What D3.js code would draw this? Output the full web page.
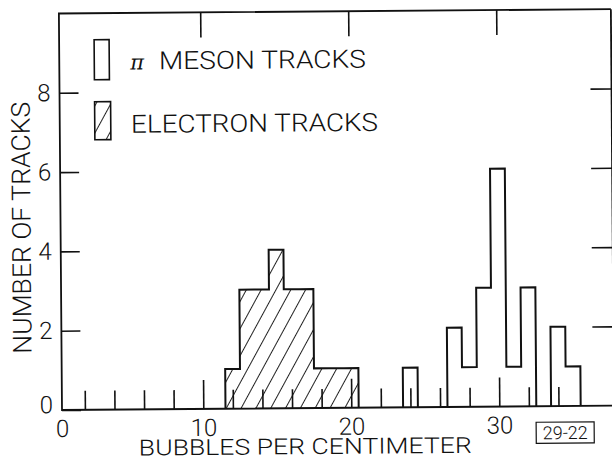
<!DOCTYPE html>
<html lang="en">
<head>
<meta charset="UTF-8">
<title>Bubbles per centimeter</title>
<style>
  body { margin: 0; background: #fff; }
  svg text { font-family: Roboto, "Liberation Sans", "DejaVu Sans", sans-serif; font-weight: 300; fill: #111; }
</style>
</head>
<body>
<div id="chart"></div>
<script src="https://d3js.org/d3.v7.min.js"></script>
<script>

// histogram bins (bubbles per cm, bin width 1) and track counts
const electronBins = [12, 13, 14, 15, 16, 17, 18, 19, 20];
const electronCounts = [1, 3, 3, 4, 3, 3, 1, 1, 1];
const pionBins = [24, 27, 28, 29, 30, 31, 32, 34, 35];
const pionCounts = [1, 2, 1, 3, 6, 1, 3, 2, 1];

// ticks
const xMajor = [0, 10, 20, 30];
const xMinor = [2, 4, 6, 8, 12, 14, 16, 18, 22, 24, 26, 28, 32, 34];
const xTop = [10, 20, 30];
const yTicks = [0, 2, 4, 6, 8];
const yRight = [2, 4, 6, 8];

const legendLabels = ["MESON TRACKS", "ELECTRON TRACKS"];
const xTitle = "BUBBLES PER CENTIMETER";
const yTitle = "NUMBER OF TRACKS";
const figNumber = "29-22";

const W = 612, H = 458;
const frame = { left: 62, right: 614, top: 13.5, bottom: 410 };

const x = d3.scaleLinear().domain([0, 36]).range([55.3, 588.1]);
const y = d3.scaleLinear().domain([0, 10]).range([frame.bottom, frame.top]);

const svg = d3.select("#chart")
    .append("svg")
    .attr("width", W)
    .attr("height", H);

// diagonal hatching for the electron histogram
svg.append("defs")
    .append("pattern")
    .attr("id", "hatch")
    .attr("patternUnits", "userSpaceOnUse")
    .attr("width", 13)
    .attr("height", 13)
    .attr("patternTransform", "rotate(29)")
    .append("line")
    .attr("x1", 6.5).attr("y1", 0)
    .attr("x2", 6.5).attr("y2", 13)
    .attr("stroke", "#222")
    .attr("stroke-width", 1);

// the scanned figure is tilted a little
const g = svg.append("g")
    .attr("transform", `rotate(-0.45, ${frame.left}, ${frame.bottom})`);

// split bins into contiguous runs, each gets its own outline
function runs(bins, counts) {
    const out = [];
    bins.forEach((b, i) => {
        const last = out[out.length - 1];
        if (last && b === last[last.length - 1].bin + 1) last.push({ bin: b, n: counts[i] });
        else out.push([{ bin: b, n: counts[i] }]);
    });
    return out;
}

const step = d3.line()
    .x(d => x(d[0]))
    .y(d => y(d[1]))
    .curve(d3.curveStepAfter);

function outline(run) {
    const pts = [[run[0].bin - 0.5, 0]];
    run.forEach(d => pts.push([d.bin - 0.5, d.n]));
    pts.push([run[run.length - 1].bin + 0.5, 0]);
    return step(pts);
}

// electron tracks (hatched)
g.append("g")
    .selectAll("path")
    .data(runs(electronBins, electronCounts))
    .join("path")
    .attr("d", outline)
    .attr("fill", "url(#hatch)")
    .attr("stroke", "#111")
    .attr("stroke-width", 2);

// pi meson tracks (open)
g.append("g")
    .selectAll("path")
    .data(runs(pionBins, pionCounts))
    .join("path")
    .attr("d", outline)
    .attr("fill", "none")
    .attr("stroke", "#111")
    .attr("stroke-width", 2);

// frame
g.append("path")
    .attr("d", `M${frame.right},${frame.top}H${frame.left}V${frame.bottom}H${frame.right}`)
    .attr("fill", "none")
    .attr("stroke", "#111")
    .attr("stroke-width", 1.8);
g.append("line")
    .attr("x1", frame.right).attr("y1", frame.top)
    .attr("x2", frame.right).attr("y2", frame.bottom)
    .attr("stroke", "#111")
    .attr("stroke-width", 1.8);

function styleAxis(a) {
    a.attr("font-family", null).attr("font-size", null).attr("color", "#111");
    a.select(".domain").remove();
    a.selectAll(".tick line").attr("stroke-width", 1.6);
    a.selectAll(".tick text").style("font-size", "24px");
}

// bottom axis: minor and major ticks point inward
g.append("g")
    .attr("transform", `translate(0,${frame.bottom})`)
    .call(d3.axisBottom(x).tickValues(xMinor).tickSizeInner(-19).tickSizeOuter(0).tickFormat(""))
    .call(styleAxis);

g.append("g")
    .attr("transform", `translate(0,${frame.bottom})`)
    .call(d3.axisBottom(x).tickValues(xMajor).tickSizeInner(-29).tickSizeOuter(0).tickPadding(10))
    .call(styleAxis)
    .call(a => a.selectAll(".tick").filter(d => d === 0).select("line").remove())
    .call(a => a.selectAll(".tick").filter(d => d === 0).select("text").attr("x", frame.left - x(0)));

// top ticks
g.append("g")
    .attr("transform", `translate(0,${frame.top})`)
    .call(d3.axisTop(x).tickValues(xTop).tickSizeInner(-25).tickSizeOuter(0).tickFormat(""))
    .call(styleAxis);

// left axis
g.append("g")
    .attr("transform", `translate(${frame.left},0)`)
    .call(d3.axisLeft(y).tickValues(yTicks).tickSizeInner(-19).tickSizeOuter(0).tickPadding(9))
    .call(styleAxis)
    .call(a => a.selectAll(".tick").filter(d => d === 0).select("text").attr("y", -5));

// right ticks
g.append("g")
    .attr("transform", `translate(${frame.right},0)`)
    .call(d3.axisRight(y).tickValues(yRight).tickSizeInner(-21).tickSizeOuter(0).tickFormat(""))
    .call(styleAxis);

// axis titles
g.append("text")
    .attr("x", 305)
    .attr("y", 456)
    .attr("text-anchor", "middle")
    .attr("textLength", 333)
    .attr("lengthAdjust", "spacingAndGlyphs")
    .style("font-size", "22px")
    .text(xTitle);

g.append("text")
    .attr("transform", "translate(32,227.5) rotate(-90)")
    .attr("text-anchor", "middle")
    .attr("textLength", 252)
    .attr("lengthAdjust", "spacingAndGlyphs")
    .style("font-size", "26px")
    .text(yTitle);

// legend
g.append("rect")
    .attr("x", 97).attr("y", 40).attr("width", 15).attr("height", 40)
    .attr("fill", "none").attr("stroke", "#111").attr("stroke-width", 1.6);
g.append("rect")
    .attr("x", 97).attr("y", 102).attr("width", 16).attr("height", 38)
    .attr("fill", "url(#hatch)").attr("stroke", "#111").attr("stroke-width", 1.6);

g.append("text")
    .attr("x", 133).attr("y", 70)
    .style("font-family", "'DejaVu Serif', serif")
    .style("font-style", "italic")
    .style("font-weight", "normal")
    .style("font-size", "21px")
    .text("\u03c0");
g.append("text")
    .attr("x", 161.7).attr("y", 70)
    .attr("textLength", 207)
    .attr("lengthAdjust", "spacingAndGlyphs")
    .style("font-size", "25px")
    .text(legendLabels[0]);
g.append("text")
    .attr("x", 133.3).attr("y", 133.3)
    .attr("textLength", 247)
    .attr("lengthAdjust", "spacingAndGlyphs")
    .style("font-size", "25px")
    .text(legendLabels[1]);

// figure number box
g.append("rect")
    .attr("x", 536).attr("y", 426).attr("width", 58).attr("height", 21)
    .attr("fill", "none").attr("stroke", "#111").attr("stroke-width", 1.2);
g.append("text")
    .attr("x", 565).attr("y", 443)
    .attr("text-anchor", "middle")
    .style("font-size", "18px")
    .text(figNumber);

</script>
</body>
</html>
